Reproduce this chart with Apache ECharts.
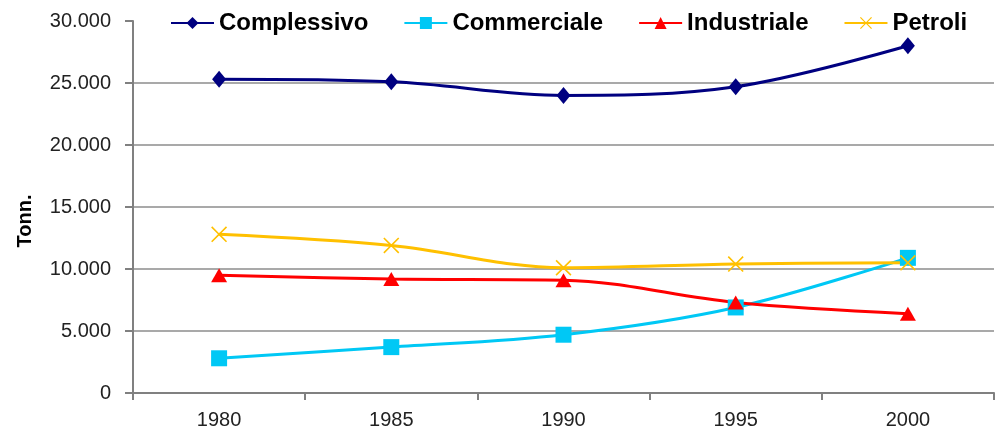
<!DOCTYPE html>
<html>
<head>
<meta charset="utf-8">
<script src="https://cdn.jsdelivr.net/npm/echarts@6/dist/echarts.min.js"></script>
<style>
  html, body { margin: 0; padding: 0; background: #fff; }
  #chart { width: 997px; height: 432px; }
</style>
</head>
<body>
<div id="chart"></div>
<script>
// anni
const years = ["1980", "1985", "1990", "1995", "2000"];
// valori in tonnellate
const complessivo = [25300, 25100, 24000, 24700, 28000];
const commerciale = [2800, 3700, 4700, 6900, 10900];
const industriale = [9500, 9200, 9100, 7300, 6400];
const petroli = [12800, 11900, 10100, 10400, 10500];

const fmt = v => String(v).replace(/\B(?=(\d{3})+(?!\d))/g, ".");
const xSymbol = "path://M0,1L1,0L7,6L13,0L14,1L8,7L14,13L13,14L7,8L1,14L0,13L6,7Z";

function serie(name, data, color, symbol, size) {
  return {
    name: name,
    type: "line",
    data: data,
    smooth: 0.35,
    symbol: symbol,
    symbolSize: size,
    lineStyle: { color: color, width: 3 },
    itemStyle: { color: color },
    z: 3
  };
}

const myChart = echarts.init(document.getElementById("chart"), null, { renderer: "canvas" });
myChart.setOption({
  animation: false,
  backgroundColor: "#fff",
  textStyle: { fontFamily: "Liberation Sans, Arial, sans-serif" },
  legend: {
    top: 6,
    left: 165,
    itemWidth: 43,
    itemHeight: 15,
    itemGap: 35,
    textStyle: { fontSize: 24, fontWeight: "bold", color: "#000" },
    data: ["Complessivo", "Commerciale", "Industriale", "Petroli"]
  },
  grid: { left: 133, right: 3, top: 21, bottom: 39, containLabel: false },
  xAxis: {
    type: "category",
    data: years,
    boundaryGap: true,
    axisLine: { lineStyle: { color: "#808080", width: 2 } },
    axisTick: { show: true, length: 7, lineStyle: { color: "#808080", width: 2 } },
    axisLabel: { fontSize: 20, color: "#222", margin: 17 }
  },
  yAxis: {
    type: "value",
    min: 0,
    max: 30000,
    interval: 5000,
    axisLine: { show: true, lineStyle: { color: "#808080", width: 2 } },
    axisTick: { show: true, length: 8, lineStyle: { color: "#808080", width: 2 } },
    axisLabel: { fontSize: 20, color: "#222", margin: 22, formatter: fmt },
    splitLine: { show: true, showMaxLine: false, lineStyle: { color: "#8c8c8c", width: 1.5 } }
  },
  graphic: [{
    type: "text",
    x: 25,
    y: 221,
    rotation: Math.PI / 2,
    style: {
      text: "Tonn.",
      fontSize: 20,
      fontWeight: "bold",
      fill: "#000",
      fontFamily: "Liberation Sans, Arial, sans-serif",
      align: "center",
      verticalAlign: "middle"
    }
  }],
  series: [
    serie("Complessivo", complessivo, "#000080", "diamond", [14, 17]),
    serie("Commerciale", commerciale, "#00C8F5", "rect", 16),
    serie("Industriale", industriale, "#FF0000", "triangle", [16, 14]),
    serie("Petroli", petroli, "#FFC000", xSymbol, 16)
  ]
});
</script>
</body>
</html>
